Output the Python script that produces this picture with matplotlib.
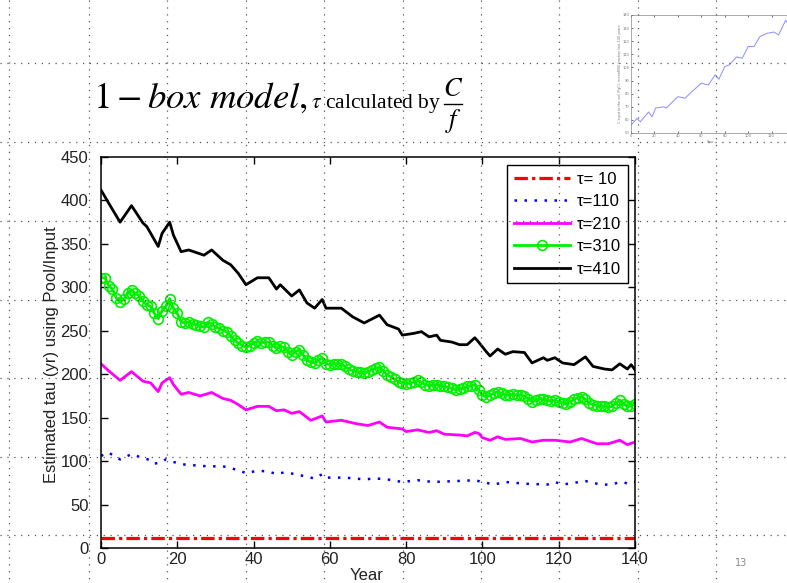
import matplotlib
matplotlib.use('Agg')
import matplotlib.pyplot as plt

W, H = 787, 583

# ---- data ----
yrs_k = [0, 2, 5, 8, 11, 12, 15, 16, 18, 19, 21, 23, 27, 29, 32, 34, 36, 38, 41, 44,
         46, 47, 50, 52, 54, 56, 58, 59, 63, 66, 69, 73, 75, 78, 79, 82, 84, 86, 88, 89,
         92, 94, 96, 98, 99, 101, 102, 104, 106, 108, 111, 113, 116, 117, 119, 121, 124, 127, 129, 132,
         134, 136, 138, 139, 140]
tau_410 = [412, 397, 375, 394, 374, 370, 347, 362, 375, 360, 341, 343, 337, 343, 331, 326, 316, 303, 311, 311,
           298, 303, 290, 297, 282, 276, 286, 276, 276, 266, 259, 268, 257, 252, 245, 247, 249, 243, 245, 239,
           237, 234, 234, 242, 237, 226, 221, 229, 223, 226, 225, 213, 219, 216, 219, 213, 211, 220, 209, 206,
           205, 212, 206, 211, 205]

yrs_g = list(range(141))
tau_310 = [311, 311, 302, 298, 288, 283, 286, 294, 297, 293, 290, 284, 280, 278, 270, 264, 273, 278, 287, 276,
           270, 260, 259, 260, 258, 257, 256, 254, 260, 258, 254, 253, 250, 249, 244, 239, 236, 233, 231, 233,
           236, 238, 236, 237, 237, 233, 230, 232, 231, 226, 222, 226, 228, 222, 216, 214, 213, 216, 219, 212,
           211, 212, 212, 212, 209, 206, 204, 203, 202, 201, 203, 205, 207, 208, 204, 199, 197, 194, 191, 190,
           189, 190, 191, 193, 191, 188, 187, 188, 188, 187, 186, 185, 184, 182, 183, 184, 186, 187, 188, 182,
           176, 174, 176, 178, 180, 178, 176, 176, 177, 176, 176, 175, 172, 168, 170, 172, 171, 170, 169, 170,
           168, 167, 166, 168, 171, 173, 174, 171, 167, 165, 164, 163, 163, 162, 163, 167, 170, 166, 163, 164,
           166]

yrs_m = [0, 2, 5, 8, 11, 13, 15, 16, 18, 19, 21, 23, 26, 29, 32, 34, 36, 38, 41, 44,
         46, 48, 50, 52, 55, 58, 59, 63, 67, 70, 73, 75, 79, 80, 83, 86, 88, 90, 94, 96,
         98, 99, 100, 102, 104, 106, 110, 113, 116, 119, 123, 126, 130, 133, 136, 138, 140]
tau_210 = [212, 204, 193, 203, 192, 190, 180, 190, 196, 188, 177, 179, 175, 179, 172, 170, 165, 159, 163, 163,
           158, 159, 155, 157, 147, 152, 145, 147, 143, 141, 145, 139, 137, 134, 136, 133, 135, 131, 130, 129,
           133, 132, 127, 124, 128, 125, 126, 122, 124, 124, 122, 126, 120, 120, 124, 119, 122]

yrs_b = [0, 2, 3, 5, 7, 8, 10, 13, 14, 16, 17, 19, 22, 25, 28, 32, 34, 37, 38, 41,
         44, 46, 48, 51, 54, 56, 58, 59, 64, 69, 72, 75, 79, 83, 87, 93, 98, 100, 103, 106,
         111, 117, 119, 121, 127, 131, 133, 137, 138, 140]
tau_110 = [106, 110, 107, 102, 106, 108, 105, 101, 97, 99, 102, 99, 96, 95, 94, 94, 92, 88, 86, 89,
           88, 85, 87, 85, 82, 80, 85, 81, 81, 79, 80, 79, 76, 78, 76, 77, 78, 76, 73, 76,
           74, 73, 76, 73, 77, 73, 73, 76, 74, 76]

yrs_r = [0, 140]
tau_10 = [11, 11]

labels = ['\u03c4= 10', '\u03c4=110', '\u03c4=210', '\u03c4=310', '\u03c4=410']

# inset: C input to the soil
yrs_in = [0, 5, 8, 15, 18, 21, 28, 30, 40, 46, 52, 60, 66, 72, 75, 80, 84, 90, 95, 100,
          105, 110, 116, 122, 126, 132, 135, 137]
c_in = [56, 61, 58.6, 66, 62.4, 69, 70, 69, 77.7, 76.5, 81.5, 88, 86.6, 94.5, 91, 100.6, 102, 108, 107, 116,
        116, 123.5, 126, 127, 124.8, 136, 132, 134.5]

plt.rcParams['mathtext.fontset'] = 'stix'
sans = 'Liberation Sans'

fig = plt.figure(figsize=(W / 100, H / 100), dpi=100)
fig.patch.set_facecolor('white')


def fx(px):
    return px / W


def fy(py):
    return 1 - py / H


# ---- main chart ----
ax = fig.add_axes([fx(101), fy(548), (635 - 101) / W, (548 - 157) / H])
ax.plot(yrs_r, tau_10, color='red', lw=2.3, dashes=(4.2, 1.3, 1, 1.3), label=labels[0])
ax.plot(yrs_b, tau_110, color='blue', lw=1.8, linestyle=(0, (1, 3)), label=labels[1])
ax.plot(yrs_m, tau_210, color='magenta', lw=2.0, label=labels[2])
ax.plot(yrs_g, tau_310, color='#00f000', lw=2.0, marker='o', ms=7, mfc='none',
        mec='#00f000', mew=1.2, label=labels[3])
ax.plot(yrs_k, tau_410, color='black', lw=2.0, label=labels[4])

ax.set_xlim(0, 140)
ax.set_ylim(0, 450)
ax.set_xticks(range(0, 141, 20))
ax.set_yticks(range(0, 451, 50))
ax.tick_params(direction='in', length=5, width=1, top=True, right=True,
               labelsize=12, labelcolor='#222222')
ax.tick_params(axis='x', pad=3)
ax.tick_params(axis='y', pad=9)
for lab in ax.get_xticklabels() + ax.get_yticklabels():
    lab.set_family(sans)
for s in ax.spines.values():
    s.set_linewidth(1.1)

leg = ax.legend(loc='upper right', bbox_to_anchor=(fx(628), fy(165)),
                bbox_transform=fig.transFigure, borderaxespad=0, fancybox=False,
                edgecolor='black', framealpha=1, handlelength=3.4,
                handletextpad=0.4, labelspacing=0.45, borderpad=0.4,
                prop={'family': sans, 'size': 12})
leg.get_frame().set_linewidth(1.0)

fig.text(fx(52), fy(355), 'Estimated tau (yr) using Pool/Input', rotation=90,
         ha='center', va='center', fontsize=12, family=sans, color='#222222')
fig.text(fx(367), fy(575), 'Year', ha='center', va='center', fontsize=12,
         family=sans, color='#222222')

# ---- inset thumbnail (top right) ----
axi = fig.add_axes([fx(631), fy(133), (795 - 631) / W, (133 - 15) / H])
axi.plot(yrs_in, c_in, color='#8c8cff', lw=0.7)
axi.set_xlim(0, 140)
axi.set_ylim(50, 140)
axi.set_xticks(range(0, 121, 20))
axi.set_yticks(range(50, 141, 10))
axi.tick_params(direction='in', length=1.5, width=0.4, labelsize=2.6,
                labelcolor='#777777', pad=1, top=True, right=True)
for s in axi.spines.values():
    s.set_linewidth(0.5)
    s.set_color('#888888')
fig.text(fx(620), fy(74), 'C input to the soil (PgC), meanMSE fraction last 140 years',
         rotation=90, ha='center', va='center', fontsize=2.4, color='#777777')
fig.text(fx(710), fy(142), 'Year', ha='center', va='center', fontsize=2.6, color='#777777')

# ---- slide title ----
renderer = fig.canvas.get_renderer()
t1 = fig.text(fx(93), fy(108), r'$1 - box\ model,$', fontsize=26.5, va='baseline')
bb = t1.get_window_extent(renderer)
x2 = bb.x1 + 3
t2 = fig.text(x2 / W, fy(108), r'$\tau$ calculated by', fontsize=15.5,
              family='Liberation Serif', va='baseline')
bb2 = t2.get_window_extent(renderer)
xc = bb2.x1 + 12
fig.text(xc / W, fy(89), r'$C$', fontsize=19, ha='center', va='center')
fig.text(xc / W, fy(121), r'$f$', fontsize=19, ha='center', va='center')
fig.add_artist(plt.Line2D([(xc - 9) / W, (xc + 9) / W], [fy(104), fy(104)],
                          color='black', lw=1.0))

fig.text(fx(741), fy(563), '13', ha='center', va='center', fontsize=7, color='#888888')

# ---- PowerPoint style dotted guide grid drawn over everything ----
ov = fig.add_axes([0, 0, 1, 1], zorder=20)
ov.set_xlim(0, W)
ov.set_ylim(H, 0)
ov.axis('off')
ov.patch.set_alpha(0)
for gx in [9, 89, 167, 246, 324, 403, 481, 559, 638, 716]:
    ov.plot([gx, gx], [0, H], color='#555555', lw=0.9, linestyle=(0, (1, 4.5)))
for gy in [63, 142, 221, 300, 378, 457, 535]:
    ov.plot([0, W], [gy, gy], color='#555555', lw=0.9, linestyle=(0, (1, 4.5)))

fig.savefig('out.png', dpi=100)
